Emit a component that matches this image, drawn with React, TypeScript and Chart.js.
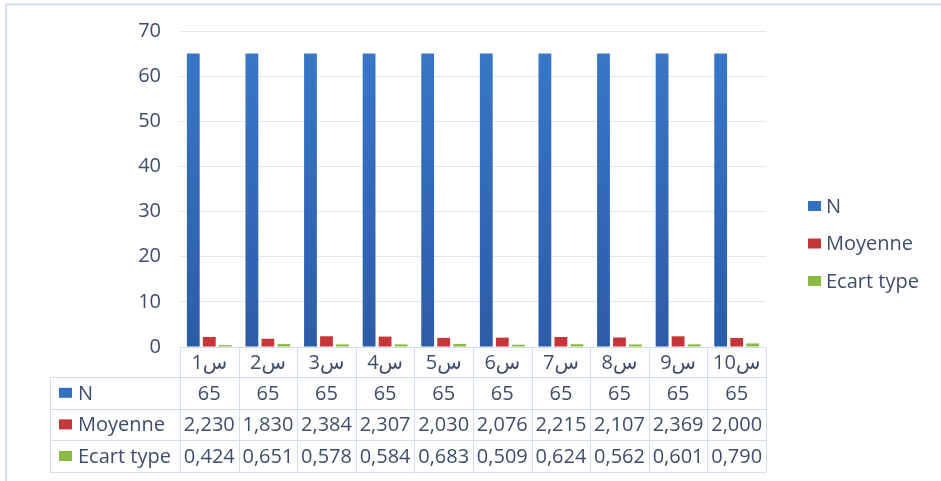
import React, { useEffect, useRef } from "react";
import { Chart, registerables } from "chart.js";

Chart.register(...registerables);

// Categories (items) and the three series shown in the chart and its data table
const categories = ["س1", "س2", "س3", "س4", "س5", "س6", "س7", "س8", "س9", "س10"];
const seriesN = [65, 65, 65, 65, 65, 65, 65, 65, 65, 65];
const seriesMoyenne = [2.23, 1.83, 2.384, 2.307, 2.03, 2.076, 2.215, 2.107, 2.369, 2.0];
const seriesEcartType = [0.424, 0.651, 0.578, 0.584, 0.683, 0.509, 0.624, 0.562, 0.601, 0.79];
const seriesLabels = ["N", "Moyenne", "Ecart type"];
const seriesDecimals = [0, 3, 3];
const yMin = 0;
const yMax = 70;
const yStep = 10;

const FONT = '"Open Sans", "DejaVu Sans", sans-serif';
const TEXT = "#3e4d6c";
const LINE = "#d3ddee";
const GRID = "#e0e7f2";
const BLUE = "#3470c0";
const RED = "#c53639";
const GREEN = "#8cbb45";

const formatValue = (v: number, decimals: number) =>
  decimals === 0 ? String(v) : v.toFixed(decimals).replace(".", ",");

// Light frame around the chart, legend on the right and data table under the plot
const decorPlugin = {
  id: "decor",
  beforeDraw(chart: any) {
    const ctx = chart.ctx;
    ctx.save();
    ctx.fillStyle = "#ffffff";
    ctx.fillRect(0, 0, chart.width, chart.height);
    ctx.strokeStyle = "#c8d6ee";
    ctx.lineWidth = 1.5;
    ctx.beginPath();
    ctx.moveTo(6, chart.height);
    ctx.lineTo(6, 4.5);
    ctx.lineTo(chart.width, 4.5);
    ctx.stroke();
    ctx.restore();
  },
  afterDraw(chart: any) {
    const ctx = chart.ctx;
    const xs = chart.scales.x;
    const area = chart.chartArea;
    const n = categories.length;
    const colW = (xs.right - xs.left) / n;
    const datasets = chart.data.datasets;

    const headerTop = area.bottom;
    const headerH = 30;
    const rowH = 31.6;
    const labelLeft = 50;
    const rowsTop = headerTop + headerH;
    const tableBottom = rowsTop + rowH * datasets.length;
    const px = (v: number) => Math.round(v) + 0.5;

    ctx.save();
    ctx.strokeStyle = LINE;
    ctx.lineWidth = 1;
    ctx.beginPath();
    // horizontal rules
    ctx.moveTo(px(xs.left), px(headerTop));
    ctx.lineTo(px(xs.right), px(headerTop));
    for (let r = 0; r <= datasets.length; r++) {
      const y = px(rowsTop + r * rowH);
      ctx.moveTo(px(labelLeft), y);
      ctx.lineTo(px(xs.right), y);
    }
    // vertical rules
    ctx.moveTo(px(labelLeft), px(rowsTop));
    ctx.lineTo(px(labelLeft), px(tableBottom));
    for (let i = 0; i <= n; i++) {
      const x = i < n ? xs.getPixelForValue(i) - colW / 2 : xs.getPixelForValue(n - 1) + colW / 2;
      ctx.moveTo(px(x), px(headerTop));
      ctx.lineTo(px(x), px(tableBottom));
    }
    ctx.stroke();

    ctx.font = `20px ${FONT}`;
    ctx.fillStyle = TEXT;
    ctx.textAlign = "center";
    ctx.textBaseline = "middle";
    categories.forEach((c, i) => {
      ctx.fillText(c, xs.getPixelForValue(i), headerTop + headerH / 2 + 1);
    });

    datasets.forEach((ds: any, r: number) => {
      const cy = rowsTop + r * rowH + rowH / 2 + 1;
      ds.data.forEach((v: number, i: number) => {
        ctx.textAlign = "center";
        ctx.fillStyle = TEXT;
        ctx.fillText(formatValue(v, seriesDecimals[r]), xs.getPixelForValue(i), cy);
      });
      ctx.fillStyle = ds.legendColor;
      ctx.fillRect(labelLeft + 9, cy - 6, 13, 10);
      ctx.fillStyle = TEXT;
      ctx.textAlign = "left";
      ctx.fillText(ds.label, labelLeft + 28, cy);
    });

    // legend
    const legendX = area.right + 42;
    const legendY0 = 206;
    const legendGap = 37.5;
    datasets.forEach((ds: any, r: number) => {
      const cy = legendY0 + r * legendGap;
      ctx.fillStyle = ds.legendColor;
      ctx.fillRect(legendX, cy - 5, 13, 10);
      ctx.fillStyle = TEXT;
      ctx.textAlign = "left";
      ctx.fillText(ds.label, legendX + 18, cy + 1);
    });
    ctx.restore();
  },
};

const blueGradient = (c: any) => {
  const area = c.chart.chartArea;
  if (!area) return BLUE;
  const g = c.chart.ctx.createLinearGradient(0, area.top, 0, area.bottom);
  g.addColorStop(0, "#3a78ca");
  g.addColorStop(1, "#2c5ca6");
  return g;
};

export default function App() {
  const canvasRef = useRef<HTMLCanvasElement | null>(null);

  useEffect(() => {
    if (!canvasRef.current) return;
    const chart = new Chart(canvasRef.current, {
      type: "bar",
      data: {
        labels: categories,
        datasets: [
          { label: seriesLabels[0], data: seriesN, backgroundColor: blueGradient, legendColor: BLUE } as any,
          { label: seriesLabels[1], data: seriesMoyenne, backgroundColor: RED, legendColor: RED } as any,
          { label: seriesLabels[2], data: seriesEcartType, backgroundColor: GREEN, legendColor: GREEN } as any,
        ],
      },
      options: {
        animation: false,
        responsive: false,
        devicePixelRatio: 1,
        datasets: { bar: { categoryPercentage: 0.82, barPercentage: 0.8 } },
        layout: { padding: { top: 29, bottom: 134, left: 0, right: 175 } },
        plugins: {
          legend: { display: false },
          tooltip: { enabled: false },
        },
        scales: {
          x: { display: false },
          y: {
            min: yMin,
            max: yMax,
            ticks: {
              stepSize: yStep,
              padding: 19,
              color: TEXT,
              font: { family: FONT, size: 20 },
            },
            grid: { color: GRID, lineWidth: 1, drawTicks: false },
            border: { display: false },
            afterFit: (scale: any) => {
              scale.width = 180;
            },
          },
        },
      },
      plugins: [decorPlugin],
    });
    return () => chart.destroy();
  }, []);

  return (
    <div style={{ position: "fixed", left: 0, top: 0, width: 941, height: 481, background: "#fff" }}>
      <canvas ref={canvasRef} width={941} height={481} />
    </div>
  );
}
